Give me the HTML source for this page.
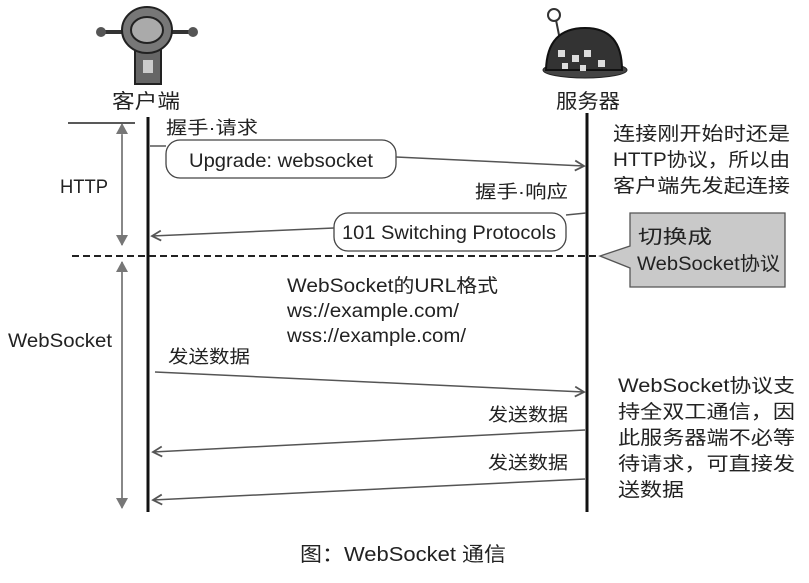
<!DOCTYPE html>
<html><head><meta charset="utf-8"><style>
html,body{margin:0;padding:0;background:#fff;}
svg{display:block;}
text{font-family:"Liberation Sans","Noto Sans CJK SC",sans-serif;fill:#222;}
</style></head><body>
<svg width="809" height="583" viewBox="0 0 809 583" xmlns="http://www.w3.org/2000/svg">
<defs>
<marker id="oa" markerWidth="12" markerHeight="12" refX="10" refY="6" orient="auto" markerUnits="userSpaceOnUse">
<path d="M1,1 L10,6 L1,11" fill="none" stroke="#555" stroke-width="1.8"/></marker>
<marker id="ta" markerWidth="12" markerHeight="12" refX="10" refY="6" orient="auto" markerUnits="userSpaceOnUse">
<path d="M0,0 L11,6 L0,12 z" fill="#777"/></marker>
</defs>
<!-- client robot -->
<line x1="100" y1="32" x2="194" y2="32" stroke="#333" stroke-width="4"/>
<circle cx="101" cy="32" r="5" fill="#555"/><circle cx="193" cy="32" r="5" fill="#555"/>
<rect x="135" y="46" width="26" height="38" fill="#666" stroke="#222" stroke-width="2"/>
<rect x="143" y="60" width="10" height="13" fill="#ccc"/>
<ellipse cx="147" cy="30" rx="25" ry="23" fill="#777" stroke="#222" stroke-width="2"/>
<ellipse cx="147" cy="30" rx="16" ry="13" fill="#aaa" stroke="#222" stroke-width="2"/>
<text x="146" y="108" font-size="20" text-anchor="middle" textLength="68" lengthAdjust="spacingAndGlyphs">客户端</text>
<!-- server robot -->
<line x1="556" y1="20" x2="561" y2="45" stroke="#333" stroke-width="2"/>
<circle cx="554" cy="15" r="6" fill="none" stroke="#333" stroke-width="2"/>
<ellipse cx="585" cy="70" rx="42" ry="8" fill="#444" stroke="#222"/>
<path d="M546,70 Q547,28 585,28 Q622,28 622,70 z" fill="#333" stroke="#111" stroke-width="2"/>
<rect x="558" y="50" width="7" height="7" fill="#ddd"/><rect x="572" y="55" width="7" height="7" fill="#ddd"/>
<rect x="584" y="50" width="7" height="7" fill="#ddd"/><rect x="598" y="60" width="7" height="7" fill="#ddd"/>
<rect x="562" y="63" width="6" height="6" fill="#ddd"/><rect x="580" y="65" width="6" height="6" fill="#ddd"/>
<text x="588" y="108" font-size="20" text-anchor="middle" textLength="64" lengthAdjust="spacingAndGlyphs">服务器</text>
<!-- lifelines -->
<line x1="148" y1="117" x2="148" y2="512" stroke="#111" stroke-width="3"/>
<line x1="587" y1="113" x2="587" y2="512" stroke="#111" stroke-width="3"/>
<!-- left -->
<line x1="68" y1="123" x2="135" y2="123" stroke="#222" stroke-width="1.5"/>
<line x1="122" y1="135" x2="122" y2="245" stroke="#777" stroke-width="1.5" marker-end="url(#ta)"/>
<line x1="122" y1="245" x2="122" y2="124" stroke="#777" stroke-width="1.5" marker-end="url(#ta)"/>
<line x1="122" y1="262" x2="122" y2="508" stroke="#777" stroke-width="1.5" marker-end="url(#ta)"/>
<line x1="122" y1="500" x2="122" y2="262" stroke="#777" stroke-width="1.5" marker-end="url(#ta)"/>
<text x="60" y="193" font-size="19" textLength="48" lengthAdjust="spacingAndGlyphs">HTTP</text>
<text x="8" y="347" font-size="19" textLength="104" lengthAdjust="spacingAndGlyphs">WebSocket</text>
<line x1="72" y1="256" x2="600" y2="256" stroke="#222" stroke-width="2" stroke-dasharray="7,4"/>
<!-- handshake -->
<text x="166" y="134" font-size="18" textLength="92" lengthAdjust="spacingAndGlyphs">握手·请求</text>
<line x1="150" y1="146" x2="166" y2="146" stroke="#555" stroke-width="1.5"/>
<rect x="166" y="140" width="230" height="38" rx="14" fill="#fff" stroke="#444" stroke-width="1.3"/>
<text x="189" y="167" font-size="19" textLength="184" lengthAdjust="spacingAndGlyphs">Upgrade: websocket</text>
<line x1="396" y1="157" x2="584" y2="166" stroke="#555" stroke-width="1.5" marker-end="url(#oa)"/>
<text x="475" y="198" font-size="18" textLength="93" lengthAdjust="spacingAndGlyphs">握手·响应</text>
<line x1="566" y1="215" x2="586" y2="213" stroke="#555" stroke-width="1.5"/>
<rect x="334" y="213" width="232" height="38" rx="14" fill="#fff" stroke="#444" stroke-width="1.3"/>
<text x="342" y="239" font-size="19" textLength="214" lengthAdjust="spacingAndGlyphs">101 Switching Protocols</text>
<line x1="334" y1="228" x2="152" y2="236" stroke="#555" stroke-width="1.5" marker-end="url(#oa)"/>
<!-- right notes -->
<g font-size="19">
<text x="613" y="140" textLength="177" lengthAdjust="spacingAndGlyphs">连接刚开始时还是</text>
<text x="613" y="166" textLength="177" lengthAdjust="spacingAndGlyphs">HTTP协议，所以由</text>
<text x="613" y="192" textLength="177" lengthAdjust="spacingAndGlyphs">客户端先发起连接</text>
</g>
<path d="M630,213 L785,213 L785,287 L630,287 L630,268 L600,256 L630,246 z" fill="#c9c9c9" stroke="#555" stroke-width="1.3"/>
<text x="638" y="243" font-size="19" textLength="74" lengthAdjust="spacingAndGlyphs">切换成</text>
<text x="637" y="270" font-size="19" textLength="143" lengthAdjust="spacingAndGlyphs">WebSocket协议</text>
<!-- URL -->
<g font-size="19">
<text x="287" y="292" textLength="211" lengthAdjust="spacingAndGlyphs">WebSocket的URL格式</text>
<text x="287" y="317" textLength="172" lengthAdjust="spacingAndGlyphs">ws://example.com/</text>
<text x="287" y="342" textLength="179" lengthAdjust="spacingAndGlyphs">wss://example.com/</text>
</g>
<!-- data -->
<text x="168" y="363" font-size="18" textLength="82" lengthAdjust="spacingAndGlyphs">发送数据</text>
<line x1="155" y1="372" x2="584" y2="392" stroke="#555" stroke-width="1.5" marker-end="url(#oa)"/>
<text x="488" y="421" font-size="18" textLength="80" lengthAdjust="spacingAndGlyphs">发送数据</text>
<line x1="585" y1="430" x2="153" y2="452" stroke="#555" stroke-width="1.5" marker-end="url(#oa)"/>
<text x="488" y="469" font-size="18" textLength="80" lengthAdjust="spacingAndGlyphs">发送数据</text>
<line x1="585" y1="479" x2="153" y2="500" stroke="#555" stroke-width="1.5" marker-end="url(#oa)"/>
<g font-size="19">
<text x="618" y="392" textLength="177" lengthAdjust="spacingAndGlyphs">WebSocket协议支</text>
<text x="618" y="418" textLength="177" lengthAdjust="spacingAndGlyphs">持全双工通信，因</text>
<text x="618" y="444" textLength="177" lengthAdjust="spacingAndGlyphs">此服务器端不必等</text>
<text x="618" y="470" textLength="177" lengthAdjust="spacingAndGlyphs">待请求，可直接发</text>
<text x="618" y="496" textLength="66" lengthAdjust="spacingAndGlyphs">送数据</text>
</g>
<text x="300" y="561" font-size="20" textLength="206" lengthAdjust="spacingAndGlyphs">图：WebSocket 通信</text>
</svg>
</body></html>
